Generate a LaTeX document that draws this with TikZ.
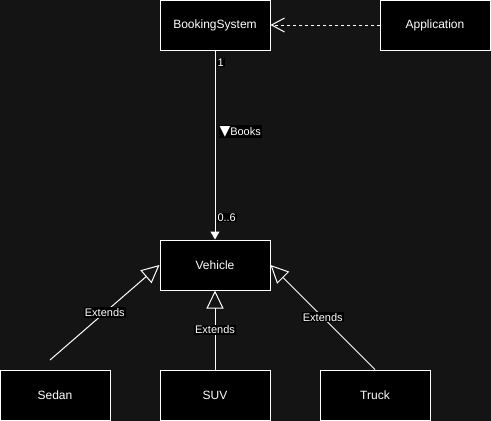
\documentclass[tikz,border=0pt]{standalone}
\usepackage{fontspec}
\setmainfont{Liberation Sans}
\newfontfamily\dejavu{DejaVu Sans}
\usetikzlibrary{arrows.meta}
\definecolor{bgc}{HTML}{141414}
\begin{document}
\begin{tikzpicture}[x=1pt,y=-1pt,
  box/.style={draw=white, fill=black, line width=1pt, minimum width=110pt, minimum height=50pt, inner sep=0pt, text=white, font=\fontsize{12}{14}\selectfont},
  conn/.style={draw=white, line width=1pt},
  elabel/.style={fill=black, text=white, inner sep=1pt, font=\fontsize{11}{13}\selectfont},
  inherit/.style={conn, -{Triangle[open, length=18pt, width=17pt, fill=bgc, line width=1pt]}},
]
\fill[bgc] (0,0) rectangle (491,421);
\useasboundingbox (0,0) rectangle (491,421);

\node[box] (bs) at (215,25) {BookingSystem};
\node[box] (app) at (435,25) {Application};
\node[box] (veh) at (215,265) {Vehicle};
\node[box] (sedan) at (55,395) {Sedan};
\node[box] (suv) at (215,395) {SUV};
\node[box] (truck) at (375,395) {Truck};
\coordinate (sedanEnd) at (50,360);

\draw[conn, dash pattern=on 3pt off 3pt, -{Straight Barb[length=13pt, width=14pt, line width=1pt]}] (app.west) -- (bs.east);

\draw[conn, -{Triangle[length=8pt, width=9pt]}] (bs.south) --
  node[pos=0.063, anchor=west, elabel, xshift=1pt] {1}
  node[pos=0.43, anchor=west, elabel, xshift=3pt] {{\dejavu\fontsize{14}{14}\selectfont ▼}Books}
  node[pos=0.884, anchor=west, elabel, xshift=1pt] {0..6}
  (veh.north);

\draw[inherit] (sedanEnd) -- node[elabel, pos=0.5] {Extends} (veh.west);
\draw[inherit] (suv.north) -- node[elabel, pos=0.5] {Extends} (veh.south);
\draw[inherit] (truck.north) -- node[elabel, pos=0.5] {Extends} (veh.east);
\end{tikzpicture}
\end{document}
